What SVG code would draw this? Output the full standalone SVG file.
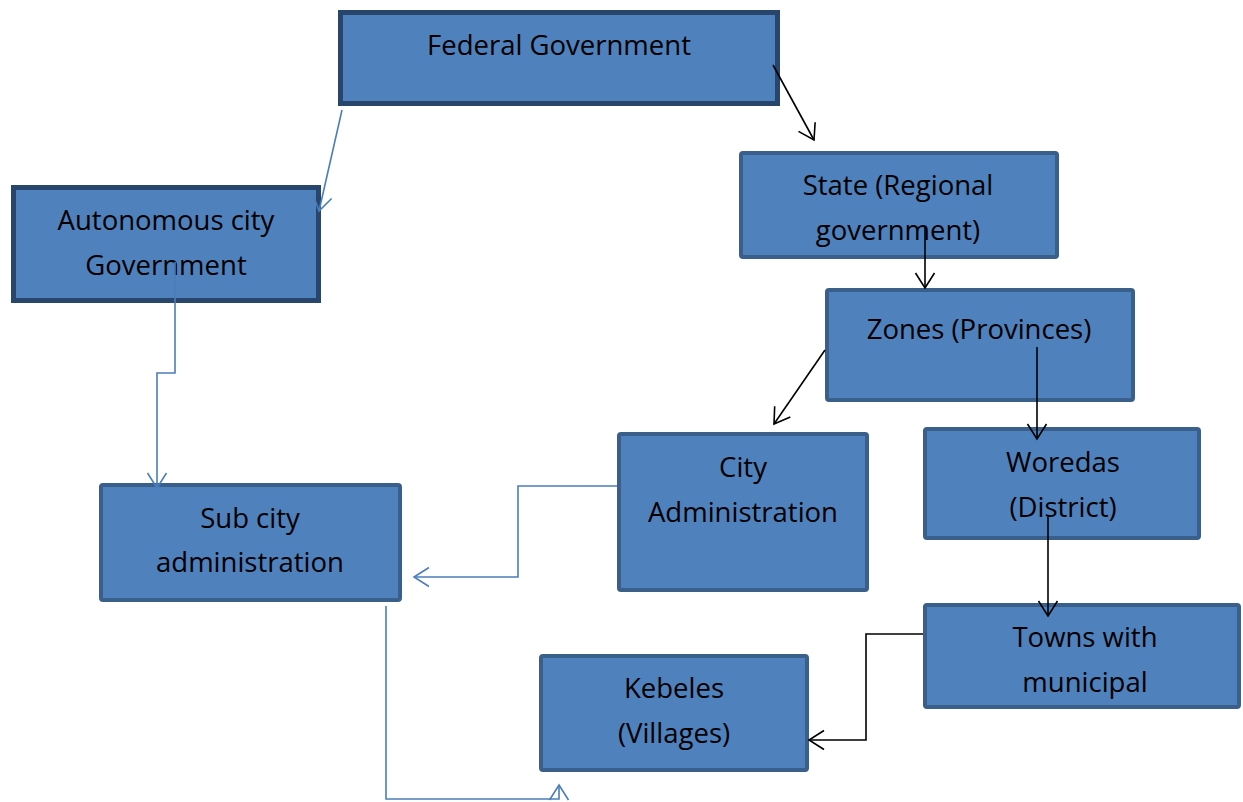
<svg xmlns="http://www.w3.org/2000/svg" width="1243" height="802" viewBox="0 0 1243 802">
  <style>
    .box { fill: #4F81BD; stroke: #3A5F8B; stroke-width: 4; }
    .box-strong { fill: #4F81BD; stroke: #28456B; stroke-width: 5; }
    .label { font-family: "Open Sans", "Liberation Sans", sans-serif; font-size: 27.5px; fill: #000; text-anchor: middle; }
    .link-blue { fill: none; stroke: #4A7EBB; stroke-width: 1.6; }
    .link-black { fill: none; stroke: #000; stroke-width: 1.6; }
  </style>
  <defs>
    <marker id="arrow-blue" markerUnits="userSpaceOnUse" viewBox="-16 -11 18 22" markerWidth="18" markerHeight="22" refX="0" refY="0" orient="auto">
      <path d="M-15,-9.5 L0,0 L-15,9.5" fill="none" stroke="#4A7EBB" stroke-width="1.6"/>
    </marker>
    <marker id="arrow-black" markerUnits="userSpaceOnUse" viewBox="-16 -11 18 22" markerWidth="18" markerHeight="22" refX="0" refY="0" orient="auto">
      <path d="M-15,-9.5 L0,0 L-15,9.5" fill="none" stroke="#000" stroke-width="1.6"/>
    </marker>
  </defs>

  <g id="federal">
    <rect class="box-strong" x="340.5" y="12.5" width="437" height="91"/>
    <text class="label" x="559" y="55">Federal Government</text>
  </g>
  <g id="autonomous-city">
    <rect class="box-strong" x="13.5" y="187.5" width="305" height="113"/>
    <text class="label" x="166" y="230">Autonomous city</text>
    <text class="label" x="166" y="275">Government</text>
  </g>
  <g id="state">
    <rect class="box" x="741" y="153" width="316" height="104" rx="2"/>
    <text class="label" x="898" y="195">State (Regional</text>
    <text class="label" x="898" y="240">government)</text>
  </g>
  <g id="zones">
    <rect class="box" x="827" y="290" width="306" height="110" rx="2"/>
    <text class="label" x="979" y="339">Zones (Provinces)</text>
  </g>
  <g id="city-administration">
    <rect class="box" x="619" y="434" width="248" height="156" rx="2"/>
    <text class="label" x="743" y="477">City</text>
    <text class="label" x="743" y="522">Administration</text>
  </g>
  <g id="woredas">
    <rect class="box" x="925" y="429" width="274" height="109" rx="2"/>
    <text class="label" x="1063" y="472">Woredas</text>
    <text class="label" x="1063" y="517">(District)</text>
  </g>
  <g id="sub-city">
    <rect class="box" x="101" y="485" width="299" height="115" rx="2"/>
    <text class="label" x="250" y="528">Sub city</text>
    <text class="label" x="250" y="572">administration</text>
  </g>
  <g id="towns">
    <rect class="box" x="925" y="605" width="314" height="102" rx="2"/>
    <text class="label" x="1085" y="647">Towns with</text>
    <text class="label" x="1085" y="692">municipal</text>
  </g>
  <g id="kebeles">
    <rect class="box" x="541" y="656" width="266" height="114" rx="2"/>
    <text class="label" x="674" y="698">Kebeles</text>
    <text class="label" x="674" y="743">(Villages)</text>
  </g>

  <g id="connectors">
    <path class="link-blue" d="M342,110 L319,211" marker-end="url(#arrow-blue)"/>
    <path class="link-blue" d="M175,262 L175,373 L157,373 L157,488" marker-end="url(#arrow-blue)"/>
    <path class="link-blue" d="M617,486 L518,486 L518,577 L414,577" marker-end="url(#arrow-blue)"/>
    <path class="link-blue" d="M386,606 L386,799 L559,799 L559,785" marker-end="url(#arrow-blue)"/>
    <path class="link-black" d="M773,65 L814,140" marker-end="url(#arrow-black)"/>
    <path class="link-black" d="M925,226 L925,288" marker-end="url(#arrow-black)"/>
    <path class="link-black" d="M825,350 L774,424" marker-end="url(#arrow-black)"/>
    <path class="link-black" d="M1037,347 L1037,439" marker-end="url(#arrow-black)"/>
    <path class="link-black" d="M1048,517 L1048,616" marker-end="url(#arrow-black)"/>
    <path class="link-black" d="M923,634 L866,634 L866,740 L809,740" marker-end="url(#arrow-black)"/>
  </g>
</svg>
